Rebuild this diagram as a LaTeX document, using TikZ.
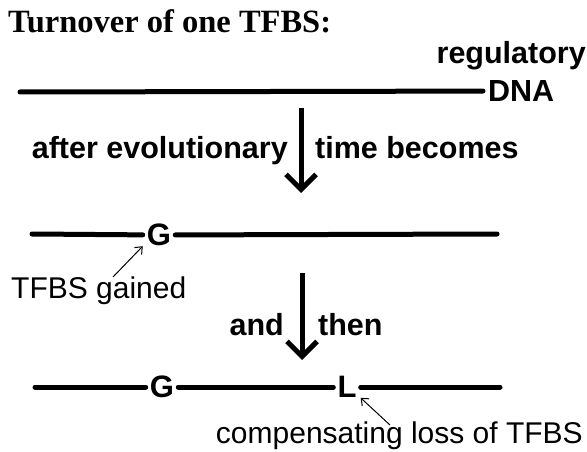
\documentclass[tikz,border=0pt]{standalone}
\usepackage{fontspec}
\setmainfont{Liberation Sans}
\newfontfamily\titlefont{Liberation Serif}
\usepackage{tikz}
\usetikzlibrary{arrows.meta,positioning}
\tikzset{
  % DNA strand
  strand/.style={line width=5pt,line cap=round},
  % Site letter on the strand
  site/.style={font=\fontsize{31}{34}\selectfont\bfseries,inner xsep=4pt,inner ysep=0pt},
  % Text labels
  ttl/.style={font=\titlefont\bfseries\fontsize{32.5}{36}\selectfont,inner sep=0pt},
  lbl/.style={font=\fontsize{30.5}{34}\selectfont\bfseries,inner sep=0pt},
  note/.style={font=\fontsize{30}{34}\selectfont,inner sep=0pt},
  % Arrows
  tarr/.style={line width=5pt,-{Straight Barb[length=15pt,width=30pt]}},
  ptr/.style={line width=1pt,-{Straight Barb[length=6pt,width=10pt]}}
}
\begin{document}
\begin{tikzpicture}[x=1pt,y=-1pt]
  \useasboundingbox (0,0) rectangle (587,452);
  \node[ttl,anchor=base west] (title) at (8,33) {Turnover of one TFBS:};

  % first strand
  \coordinate (s1w) at (20,92);
  \node[lbl,anchor=west,inner xsep=5pt] (dna) at (483,91) {DNA};
  \node[lbl,anchor=base east] (reg) at (586,64) {regulatory};
  \draw[strand] (s1w) -- (dna);

  \coordinate (a1s) at (301,108);
  \coordinate (a1e) at (301,193);
  \draw[tarr] (a1s) -- (a1e);
  \node[lbl,anchor=base east] (after) at (288,158) {after evolutionary};
  \node[lbl,anchor=base west] (time)  at (315,158) {time becomes};

  % second strand
  \coordinate (s2w) at (32,234);
  \coordinate (s2e) at (497,234);
  \node[site] (g2) at (159,235) {G};
  \draw[strand] (s2w) -- (g2) -- (s2e);
  \node[note,anchor=base west] (gain) at (11,298) {TFBS gained};
  \coordinate (p2) at (113,277);
  \draw[ptr] (p2) -- (g2.south west);

  \coordinate (a2s) at (302,273);
  \coordinate (a2e) at (302,360);
  \draw[tarr] (a2s) -- (a2e);
  \node[lbl,anchor=base east] (and)  at (284,335) {and};
  \node[lbl,anchor=base west] (then) at (318,335) {then};

  % third strand
  \coordinate (s3w) at (35,387);
  \coordinate (s3e) at (500,387);
  \node[site] (g3) at (162,387) {G};
  \node[site] (l3) at (347,387) {L};
  \draw[strand] (s3w) -- (g3) -- (l3) -- (s3e);
  \node[note,anchor=base east] (loss) at (583,443) {compensating loss of TFBS};
  \coordinate (p3) at (390,425);
  \draw[ptr] (p3) -- (l3.south east);
\end{tikzpicture}
\end{document}
